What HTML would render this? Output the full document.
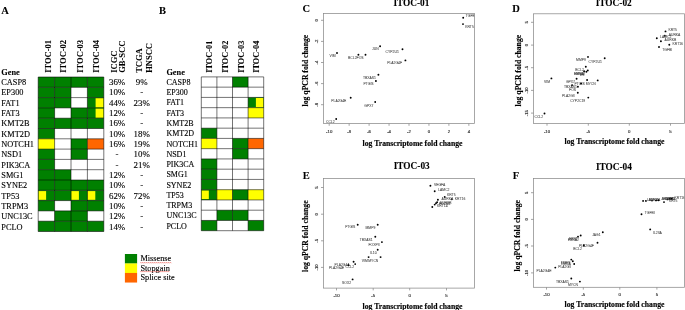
<!DOCTYPE html>
<html><head><meta charset="utf-8"><title>Figure</title>
<style>
html,body{margin:0;padding:0;background:#fff;}
svg{display:block;}
text{white-space:pre;}
.s{font-family:"Liberation Serif",serif;fill:#000;stroke:#000;stroke-width:0.12px;}
.sb{font-family:"Liberation Serif",serif;font-weight:bold;fill:#000;stroke:#000;stroke-width:0.08px;}
.ax{stroke:#000;stroke-width:0.15px;}
.t{font-family:"Liberation Sans",sans-serif;font-size:4.3px;fill:#333;stroke:#333;stroke-width:0.16px;}
.l{font-family:"Liberation Sans",sans-serif;font-size:3.4px;fill:#444;stroke:#444;stroke-width:0.05px;}
</style></head><body>
<svg width="685" height="310" viewBox="0 0 685 310">
<rect width="685" height="310" fill="#ffffff"/>
<rect x="38.20" y="77.00" width="16.40" height="10.30" fill="#008000"/>
<rect x="54.60" y="77.00" width="16.40" height="10.30" fill="#008000"/>
<rect x="71.00" y="77.00" width="16.40" height="10.30" fill="#008000"/>
<rect x="87.40" y="77.00" width="16.40" height="10.30" fill="#008000"/>
<rect x="38.20" y="87.30" width="16.40" height="10.30" fill="#008000"/>
<rect x="54.60" y="87.30" width="16.40" height="10.30" fill="#008000"/>
<rect x="87.40" y="87.30" width="16.40" height="10.30" fill="#008000"/>
<rect x="38.20" y="97.60" width="16.40" height="10.30" fill="#008000"/>
<rect x="54.60" y="97.60" width="16.40" height="10.30" fill="#008000"/>
<rect x="87.40" y="97.60" width="16.40" height="10.30" fill="#008000"/>
<rect x="95.60" y="98.20" width="8.00" height="9.30" fill="#ffff00"/>
<rect x="38.20" y="107.90" width="16.40" height="10.30" fill="#008000"/>
<rect x="71.00" y="107.90" width="16.40" height="10.30" fill="#008000"/>
<rect x="87.40" y="107.90" width="16.40" height="10.30" fill="#008000"/>
<rect x="95.60" y="108.50" width="8.00" height="9.30" fill="#ffff00"/>
<rect x="38.20" y="118.20" width="16.40" height="10.30" fill="#008000"/>
<rect x="54.60" y="118.20" width="16.40" height="10.30" fill="#008000"/>
<rect x="71.00" y="118.20" width="16.40" height="10.30" fill="#008000"/>
<rect x="87.40" y="118.20" width="16.40" height="10.30" fill="#008000"/>
<rect x="38.20" y="128.50" width="16.40" height="10.30" fill="#008000"/>
<rect x="38.20" y="138.80" width="16.40" height="10.30" fill="#ffff00"/>
<rect x="71.00" y="138.80" width="16.40" height="10.30" fill="#008000"/>
<rect x="87.40" y="138.80" width="16.40" height="10.30" fill="#ff6600"/>
<rect x="38.20" y="149.10" width="16.40" height="10.30" fill="#008000"/>
<rect x="71.00" y="149.10" width="16.40" height="10.30" fill="#008000"/>
<rect x="38.20" y="159.40" width="16.40" height="10.30" fill="#008000"/>
<rect x="38.20" y="169.70" width="16.40" height="10.30" fill="#008000"/>
<rect x="54.60" y="169.70" width="16.40" height="10.30" fill="#008000"/>
<rect x="38.20" y="180.00" width="16.40" height="10.30" fill="#008000"/>
<rect x="54.60" y="180.00" width="16.40" height="10.30" fill="#008000"/>
<rect x="71.00" y="180.00" width="16.40" height="10.30" fill="#008000"/>
<rect x="87.40" y="180.00" width="16.40" height="10.30" fill="#008000"/>
<rect x="38.20" y="190.30" width="16.40" height="10.30" fill="#008000"/>
<rect x="38.40" y="191.10" width="7.71" height="8.70" fill="#ffff00"/>
<rect x="54.60" y="190.30" width="16.40" height="10.30" fill="#008000"/>
<rect x="71.00" y="190.30" width="16.40" height="10.30" fill="#008000"/>
<rect x="71.20" y="191.10" width="7.71" height="8.70" fill="#ffff00"/>
<rect x="87.40" y="190.30" width="16.40" height="10.30" fill="#008000"/>
<rect x="87.60" y="191.10" width="7.71" height="8.70" fill="#ffff00"/>
<rect x="38.20" y="200.60" width="16.40" height="10.30" fill="#008000"/>
<rect x="71.00" y="200.60" width="16.40" height="10.30" fill="#008000"/>
<rect x="87.40" y="200.60" width="16.40" height="10.30" fill="#008000"/>
<rect x="54.60" y="210.90" width="16.40" height="10.30" fill="#008000"/>
<rect x="71.00" y="210.90" width="16.40" height="10.30" fill="#008000"/>
<rect x="38.20" y="221.20" width="16.40" height="10.30" fill="#008000"/>
<rect x="54.60" y="221.20" width="16.40" height="10.30" fill="#008000"/>
<rect x="71.00" y="221.20" width="16.40" height="10.30" fill="#008000"/>
<rect x="87.40" y="221.20" width="16.40" height="10.30" fill="#008000"/>
<line x1="38.20" y1="77.00" x2="38.20" y2="231.50" stroke="#000" stroke-width="0.55"/>
<line x1="54.60" y1="77.00" x2="54.60" y2="231.50" stroke="#000" stroke-width="0.55"/>
<line x1="71.00" y1="77.00" x2="71.00" y2="231.50" stroke="#000" stroke-width="0.55"/>
<line x1="87.40" y1="77.00" x2="87.40" y2="231.50" stroke="#000" stroke-width="0.55"/>
<line x1="103.80" y1="77.00" x2="103.80" y2="231.50" stroke="#000" stroke-width="0.55"/>
<line x1="38.20" y1="77.00" x2="103.80" y2="77.00" stroke="#000" stroke-width="0.55"/>
<line x1="38.20" y1="87.30" x2="103.80" y2="87.30" stroke="#000" stroke-width="0.55"/>
<line x1="38.20" y1="97.60" x2="103.80" y2="97.60" stroke="#000" stroke-width="0.55"/>
<line x1="38.20" y1="107.90" x2="103.80" y2="107.90" stroke="#000" stroke-width="0.55"/>
<line x1="38.20" y1="118.20" x2="103.80" y2="118.20" stroke="#000" stroke-width="0.55"/>
<line x1="38.20" y1="128.50" x2="103.80" y2="128.50" stroke="#000" stroke-width="0.55"/>
<line x1="38.20" y1="138.80" x2="103.80" y2="138.80" stroke="#000" stroke-width="0.55"/>
<line x1="38.20" y1="149.10" x2="103.80" y2="149.10" stroke="#000" stroke-width="0.55"/>
<line x1="38.20" y1="159.40" x2="103.80" y2="159.40" stroke="#000" stroke-width="0.55"/>
<line x1="38.20" y1="169.70" x2="103.80" y2="169.70" stroke="#000" stroke-width="0.55"/>
<line x1="38.20" y1="180.00" x2="103.80" y2="180.00" stroke="#000" stroke-width="0.55"/>
<line x1="38.20" y1="190.30" x2="103.80" y2="190.30" stroke="#000" stroke-width="0.55"/>
<line x1="38.20" y1="200.60" x2="103.80" y2="200.60" stroke="#000" stroke-width="0.55"/>
<line x1="38.20" y1="210.90" x2="103.80" y2="210.90" stroke="#000" stroke-width="0.55"/>
<line x1="38.20" y1="221.20" x2="103.80" y2="221.20" stroke="#000" stroke-width="0.55"/>
<line x1="38.20" y1="231.50" x2="103.80" y2="231.50" stroke="#000" stroke-width="0.55"/>
<text class="s" x="1.3" y="84.85" font-size="8.3">CASP8</text>
<text class="s" x="1.3" y="95.19" font-size="8.3">EP300</text>
<text class="s" x="1.3" y="105.54" font-size="8.3">FAT1</text>
<text class="s" x="1.3" y="115.88" font-size="8.3">FAT3</text>
<text class="s" x="1.3" y="126.23" font-size="8.3">KMT2B</text>
<text class="s" x="1.3" y="136.57" font-size="8.3">KMT2D</text>
<text class="s" x="1.3" y="146.92" font-size="8.3">NOTCH1</text>
<text class="s" x="1.3" y="157.26" font-size="8.3">NSD1</text>
<text class="s" x="1.3" y="167.61" font-size="8.3">PIK3CA</text>
<text class="s" x="1.3" y="177.95" font-size="8.3">SMG1</text>
<text class="s" x="1.3" y="188.3" font-size="8.3">SYNE2</text>
<text class="s" x="1.3" y="198.64" font-size="8.3">TP53</text>
<text class="s" x="1.3" y="208.99" font-size="8.3">TRPM3</text>
<text class="s" x="1.3" y="219.34" font-size="8.3">UNC13C</text>
<text class="s" x="1.3" y="229.68" font-size="8.3">PCLO</text>
<text class="sb" x="1.3" y="75.2" font-size="8.3">Gene</text>
<text class="sb" x="51.2" y="72.8" font-size="8.5" transform="rotate(-90 51.2 72.8)">ITOC-01</text>
<text class="sb" x="66.5" y="72.8" font-size="8.5" transform="rotate(-90 66.5 72.8)">ITOC-02</text>
<text class="sb" x="82.9" y="72.8" font-size="8.5" transform="rotate(-90 82.9 72.8)">ITOC-03</text>
<text class="sb" x="99.2" y="72.8" font-size="8.5" transform="rotate(-90 99.2 72.8)">ITOC-04</text>
<text class="s" x="117.1" y="84.95" font-size="8.9" text-anchor="middle">36%</text>
<text class="s" x="141.7" y="84.95" font-size="8.9" text-anchor="middle">9%</text>
<text class="s" x="117.1" y="95.3" font-size="8.9" text-anchor="middle">10%</text>
<text class="s" x="141.7" y="95.3" font-size="8.9" text-anchor="middle">-</text>
<text class="s" x="117.1" y="105.64" font-size="8.9" text-anchor="middle">44%</text>
<text class="s" x="141.7" y="105.64" font-size="8.9" text-anchor="middle">23%</text>
<text class="s" x="117.1" y="115.99" font-size="8.9" text-anchor="middle">12%</text>
<text class="s" x="141.7" y="115.99" font-size="8.9" text-anchor="middle">-</text>
<text class="s" x="117.1" y="126.33" font-size="8.9" text-anchor="middle">16%</text>
<text class="s" x="141.7" y="126.33" font-size="8.9" text-anchor="middle">-</text>
<text class="s" x="117.1" y="136.68" font-size="8.9" text-anchor="middle">10%</text>
<text class="s" x="141.7" y="136.68" font-size="8.9" text-anchor="middle">18%</text>
<text class="s" x="117.1" y="147.02" font-size="8.9" text-anchor="middle">16%</text>
<text class="s" x="141.7" y="147.02" font-size="8.9" text-anchor="middle">19%</text>
<text class="s" x="117.1" y="157.37" font-size="8.9" text-anchor="middle">-</text>
<text class="s" x="141.7" y="157.37" font-size="8.9" text-anchor="middle">10%</text>
<text class="s" x="117.1" y="167.71" font-size="8.9" text-anchor="middle">-</text>
<text class="s" x="141.7" y="167.71" font-size="8.9" text-anchor="middle">21%</text>
<text class="s" x="117.1" y="178.06" font-size="8.9" text-anchor="middle">12%</text>
<text class="s" x="141.7" y="178.06" font-size="8.9" text-anchor="middle">-</text>
<text class="s" x="117.1" y="188.4" font-size="8.9" text-anchor="middle">10%</text>
<text class="s" x="141.7" y="188.4" font-size="8.9" text-anchor="middle">-</text>
<text class="s" x="117.1" y="198.75" font-size="8.9" text-anchor="middle">62%</text>
<text class="s" x="141.7" y="198.75" font-size="8.9" text-anchor="middle">72%</text>
<text class="s" x="117.1" y="209.09" font-size="8.9" text-anchor="middle">10%</text>
<text class="s" x="141.7" y="209.09" font-size="8.9" text-anchor="middle">-</text>
<text class="s" x="117.1" y="219.44" font-size="8.9" text-anchor="middle">12%</text>
<text class="s" x="141.7" y="219.44" font-size="8.9" text-anchor="middle">-</text>
<text class="s" x="117.1" y="229.78" font-size="8.9" text-anchor="middle">14%</text>
<text class="s" x="141.7" y="229.78" font-size="8.9" text-anchor="middle">-</text>
<text class="sb" x="116.6" y="72.8" font-size="8.5" transform="rotate(-90 116.6 72.8)">ICGC</text>
<text class="sb" x="125.4" y="72.8" font-size="8.5" transform="rotate(-90 125.4 72.8)">GB-SCC</text>
<text class="sb" x="142.5" y="72.8" font-size="8.5" transform="rotate(-90 142.5 72.8)">TCGA</text>
<text class="sb" x="152.0" y="72.8" font-size="8.5" transform="rotate(-90 152.0 72.8)">HNSCC</text>
<rect x="232.50" y="76.90" width="15.60" height="10.25" fill="#008000"/>
<rect x="248.10" y="97.41" width="15.60" height="10.25" fill="#008000"/>
<rect x="255.90" y="98.01" width="7.60" height="9.25" fill="#ffff00"/>
<rect x="248.10" y="107.66" width="15.60" height="10.25" fill="#ffff00"/>
<rect x="201.30" y="128.17" width="15.60" height="10.25" fill="#008000"/>
<rect x="201.30" y="138.42" width="15.60" height="10.25" fill="#ffff00"/>
<rect x="232.50" y="138.42" width="15.60" height="10.25" fill="#008000"/>
<rect x="248.10" y="138.42" width="15.60" height="10.25" fill="#ff6600"/>
<rect x="232.50" y="148.67" width="15.60" height="10.25" fill="#008000"/>
<rect x="201.30" y="158.93" width="15.60" height="10.25" fill="#008000"/>
<rect x="201.30" y="169.18" width="15.60" height="10.25" fill="#008000"/>
<rect x="201.30" y="179.43" width="15.60" height="10.25" fill="#008000"/>
<rect x="201.30" y="189.69" width="15.60" height="10.25" fill="#008000"/>
<rect x="201.50" y="190.49" width="7.33" height="8.65" fill="#ffff00"/>
<rect x="216.90" y="189.69" width="15.60" height="10.25" fill="#ffff00"/>
<rect x="232.50" y="189.69" width="15.60" height="10.25" fill="#008000"/>
<rect x="248.10" y="189.69" width="15.60" height="10.25" fill="#ffff00"/>
<rect x="216.90" y="210.19" width="15.60" height="10.25" fill="#008000"/>
<rect x="232.50" y="210.19" width="15.60" height="10.25" fill="#008000"/>
<rect x="201.30" y="220.45" width="15.60" height="10.25" fill="#008000"/>
<rect x="248.10" y="220.45" width="15.60" height="10.25" fill="#008000"/>
<line x1="201.30" y1="76.90" x2="201.30" y2="230.70" stroke="#000" stroke-width="0.55"/>
<line x1="216.90" y1="76.90" x2="216.90" y2="230.70" stroke="#000" stroke-width="0.55"/>
<line x1="232.50" y1="76.90" x2="232.50" y2="230.70" stroke="#000" stroke-width="0.55"/>
<line x1="248.10" y1="76.90" x2="248.10" y2="230.70" stroke="#000" stroke-width="0.55"/>
<line x1="263.70" y1="76.90" x2="263.70" y2="230.70" stroke="#000" stroke-width="0.55"/>
<line x1="201.30" y1="76.90" x2="263.70" y2="76.90" stroke="#000" stroke-width="0.55"/>
<line x1="201.30" y1="87.15" x2="263.70" y2="87.15" stroke="#000" stroke-width="0.55"/>
<line x1="201.30" y1="97.41" x2="263.70" y2="97.41" stroke="#000" stroke-width="0.55"/>
<line x1="201.30" y1="107.66" x2="263.70" y2="107.66" stroke="#000" stroke-width="0.55"/>
<line x1="201.30" y1="117.91" x2="263.70" y2="117.91" stroke="#000" stroke-width="0.55"/>
<line x1="201.30" y1="128.17" x2="263.70" y2="128.17" stroke="#000" stroke-width="0.55"/>
<line x1="201.30" y1="138.42" x2="263.70" y2="138.42" stroke="#000" stroke-width="0.55"/>
<line x1="201.30" y1="148.67" x2="263.70" y2="148.67" stroke="#000" stroke-width="0.55"/>
<line x1="201.30" y1="158.93" x2="263.70" y2="158.93" stroke="#000" stroke-width="0.55"/>
<line x1="201.30" y1="169.18" x2="263.70" y2="169.18" stroke="#000" stroke-width="0.55"/>
<line x1="201.30" y1="179.43" x2="263.70" y2="179.43" stroke="#000" stroke-width="0.55"/>
<line x1="201.30" y1="189.69" x2="263.70" y2="189.69" stroke="#000" stroke-width="0.55"/>
<line x1="201.30" y1="199.94" x2="263.70" y2="199.94" stroke="#000" stroke-width="0.55"/>
<line x1="201.30" y1="210.19" x2="263.70" y2="210.19" stroke="#000" stroke-width="0.55"/>
<line x1="201.30" y1="220.45" x2="263.70" y2="220.45" stroke="#000" stroke-width="0.55"/>
<line x1="201.30" y1="230.70" x2="263.70" y2="230.70" stroke="#000" stroke-width="0.55"/>
<text class="s" x="166.4" y="84.85" font-size="8.0">CASP8</text>
<text class="s" x="166.4" y="95.13" font-size="8.0">EP300</text>
<text class="s" x="166.4" y="105.41" font-size="8.0">FAT1</text>
<text class="s" x="166.4" y="115.69" font-size="8.0">FAT3</text>
<text class="s" x="166.4" y="125.97" font-size="8.0">KMT2B</text>
<text class="s" x="166.4" y="136.25" font-size="8.0">KMT2D</text>
<text class="s" x="166.4" y="146.53" font-size="8.0">NOTCH1</text>
<text class="s" x="166.4" y="156.81" font-size="8.0">NSD1</text>
<text class="s" x="166.4" y="167.09" font-size="8.0">PIK3CA</text>
<text class="s" x="166.4" y="177.37" font-size="8.0">SMG1</text>
<text class="s" x="166.4" y="187.65" font-size="8.0">SYNE2</text>
<text class="s" x="166.4" y="197.93" font-size="8.0">TP53</text>
<text class="s" x="166.4" y="208.21" font-size="8.0">TRPM3</text>
<text class="s" x="166.4" y="218.49" font-size="8.0">UNC13C</text>
<text class="s" x="166.4" y="228.77" font-size="8.0">PCLO</text>
<text class="sb" x="166.4" y="75.2" font-size="8.3">Gene</text>
<text class="sb" x="212.5" y="72.8" font-size="8.3" transform="rotate(-90 212.5 72.8)">ITOC-01</text>
<text class="sb" x="227.8" y="72.8" font-size="8.3" transform="rotate(-90 227.8 72.8)">ITOC-02</text>
<text class="sb" x="243.9" y="72.8" font-size="8.3" transform="rotate(-90 243.9 72.8)">ITOC-03</text>
<text class="sb" x="259.3" y="72.8" font-size="8.3" transform="rotate(-90 259.3 72.8)">ITOC-04</text>
<text class="sb" x="1.3" y="14.2" font-size="10.5">A</text>
<text class="sb" x="159.0" y="14.2" font-size="10.5">B</text>
<text class="sb" x="302.4" y="12.3" font-size="10.5">C</text>
<text class="sb" x="512.2" y="11.9" font-size="10.5">D</text>
<text class="sb" x="302.8" y="179.3" font-size="10.5">E</text>
<text class="sb" x="512.7" y="179.3" font-size="10.5">F</text>
<rect x="124.90" y="254.00" width="12.20" height="9.60" fill="#008000"/>
<text class="s lg" x="140.4" y="261.2" font-size="8.3">Missense</text>
<rect x="124.90" y="263.47" width="12.20" height="9.60" fill="#ffff00"/>
<text class="s lg" x="140.4" y="270.67" font-size="8.3">Stopgain</text>
<rect x="124.90" y="272.94" width="12.20" height="9.60" fill="#ff6600"/>
<text class="s lg" x="140.4" y="280.14" font-size="8.3">Splice site</text>
<polyline points="140.40,262.20 141.40,263.20 142.40,262.20 143.40,263.20 144.40,262.20 145.40,263.20 146.40,262.20 147.40,263.20 148.40,262.20 149.40,263.20 150.40,262.20 151.40,263.20 152.40,262.20 153.40,263.20 154.40,262.20 155.40,263.20 156.40,262.20 157.40,263.20 158.40,262.20 159.40,263.20 160.40,262.20 161.40,263.20 162.40,262.20 163.40,263.20 164.40,262.20 165.40,263.20 166.40,262.20 167.40,263.20 168.40,262.20 169.40,263.20 170.40,262.20 171.40,263.20" fill="none" stroke="#e8443a" stroke-width="0.55"/>
<polyline points="140.40,271.10 141.40,272.10 142.40,271.10 143.40,272.10 144.40,271.10 145.40,272.10 146.40,271.10 147.40,272.10 148.40,271.10 149.40,272.10 150.40,271.10 151.40,272.10 152.40,271.10 153.40,272.10 154.40,271.10 155.40,272.10 156.40,271.10 157.40,272.10 158.40,271.10 159.40,272.10 160.40,271.10 161.40,272.10 162.40,271.10 163.40,272.10 164.40,271.10 165.40,272.10 166.40,271.10 167.40,272.10 168.40,271.10 169.40,272.10" fill="none" stroke="#e8443a" stroke-width="0.55"/>
<clipPath id="c1"><rect x="323.6" y="13.6" width="150.90" height="109.90"/></clipPath>
<text class="sb" x="411.4" y="5.95" font-size="9.3" text-anchor="middle">ITOC-01</text>
<line x1="329.20" y1="123.50" x2="329.20" y2="125.80" stroke="#666" stroke-width="0.6"/>
<text class="t" x="329.2" y="132.6" text-anchor="middle">-10</text>
<line x1="349.15" y1="123.50" x2="349.15" y2="125.80" stroke="#666" stroke-width="0.6"/>
<text class="t" x="349.15" y="132.6" text-anchor="middle">-8</text>
<line x1="369.10" y1="123.50" x2="369.10" y2="125.80" stroke="#666" stroke-width="0.6"/>
<text class="t" x="369.09999999999997" y="132.6" text-anchor="middle">-6</text>
<line x1="389.05" y1="123.50" x2="389.05" y2="125.80" stroke="#666" stroke-width="0.6"/>
<text class="t" x="389.04999999999995" y="132.6" text-anchor="middle">-4</text>
<line x1="409.00" y1="123.50" x2="409.00" y2="125.80" stroke="#666" stroke-width="0.6"/>
<text class="t" x="409.0" y="132.6" text-anchor="middle">-2</text>
<line x1="428.95" y1="123.50" x2="428.95" y2="125.80" stroke="#666" stroke-width="0.6"/>
<text class="t" x="428.95" y="132.6" text-anchor="middle">0</text>
<line x1="448.90" y1="123.50" x2="448.90" y2="125.80" stroke="#666" stroke-width="0.6"/>
<text class="t" x="448.9" y="132.6" text-anchor="middle">2</text>
<line x1="468.85" y1="123.50" x2="468.85" y2="125.80" stroke="#666" stroke-width="0.6"/>
<text class="t" x="468.85" y="132.6" text-anchor="middle">4</text>
<line x1="321.00" y1="20.30" x2="323.60" y2="20.30" stroke="#666" stroke-width="0.6"/>
<text class="t" x="317.6" y="20.3" text-anchor="middle" transform="rotate(-90 317.6 20.3)">0</text>
<line x1="321.00" y1="41.40" x2="323.60" y2="41.40" stroke="#666" stroke-width="0.6"/>
<text class="t" x="317.6" y="41.400000000000006" text-anchor="middle" transform="rotate(-90 317.6 41.400000000000006)">-2</text>
<line x1="321.00" y1="62.50" x2="323.60" y2="62.50" stroke="#666" stroke-width="0.6"/>
<text class="t" x="317.6" y="62.5" text-anchor="middle" transform="rotate(-90 317.6 62.5)">-4</text>
<line x1="321.00" y1="83.60" x2="323.60" y2="83.60" stroke="#666" stroke-width="0.6"/>
<text class="t" x="317.6" y="83.60000000000001" text-anchor="middle" transform="rotate(-90 317.6 83.60000000000001)">-6</text>
<line x1="321.00" y1="104.70" x2="323.60" y2="104.70" stroke="#666" stroke-width="0.6"/>
<text class="t" x="317.6" y="104.7" text-anchor="middle" transform="rotate(-90 317.6 104.7)">-8</text>
<text class="sb ax" x="308.0" y="70.6" font-size="7.7" text-anchor="middle" transform="rotate(-90 308.0 70.6)">log qPCR fold change</text>
<text class="sb ax" x="412.5" y="145.6" font-size="7.7" text-anchor="middle">log Transcriptome fold change</text>
<g clip-path="url(#c1)">
<circle cx="337.0" cy="53.0" r="0.95"/>
<text class="l" x="332.6" y="57.25" text-anchor="middle">VIM</text>
<circle cx="358.4" cy="54.8" r="0.95"/>
<text class="l" x="356.6" y="58.75" text-anchor="end">BCL2</text>
<circle cx="365.5" cy="54.8" r="0.95"/>
<text class="l" x="363.6" y="58.75" text-anchor="end">FOS</text>
<circle cx="380.1" cy="46.2" r="0.95"/>
<text class="l" x="375.4" y="50.35" text-anchor="middle">JUN</text>
<circle cx="402.5" cy="49.2" r="0.95"/>
<text class="l" x="392.2" y="53.15" text-anchor="middle">CYP2U1</text>
<circle cx="405.4" cy="60.4" r="0.95"/>
<text class="l" x="394.6" y="63.85" text-anchor="middle">PLA2G4F</text>
<circle cx="463.2" cy="17.7" r="0.95"/>
<text class="l" x="465.8" y="17.15" text-anchor="start">TGFBI</text>
<circle cx="463.0" cy="24.1" r="0.95"/>
<text class="l" x="465.2" y="27.85" text-anchor="start">KRT5</text>
<circle cx="378.4" cy="74.7" r="0.95"/>
<text class="l" x="369.5" y="78.65" text-anchor="middle">TBXAS1</text>
<circle cx="375.9" cy="81.0" r="0.95"/>
<text class="l" x="368.5" y="84.95" text-anchor="middle">PTGIS</text>
<circle cx="350.7" cy="97.7" r="0.95"/>
<text class="l" x="338.8" y="102.15" text-anchor="middle">PLA2G4E</text>
<circle cx="375.2" cy="102.0" r="0.95"/>
<text class="l" x="368.8" y="106.55" text-anchor="middle">GPX7</text>
<circle cx="336.2" cy="119.0" r="0.95"/>
<text class="l" x="330.3" y="122.95" text-anchor="middle">CCL2</text>
</g>
<rect x="323.60" y="13.60" width="150.90" height="109.90" fill="none" stroke="#8a8a8a" stroke-width="0.75"/>
<clipPath id="c2"><rect x="533.6" y="13.8" width="150.90" height="109.60"/></clipPath>
<text class="sb" x="613.7" y="6.3" font-size="9.3" text-anchor="middle">ITOC-02</text>
<line x1="547.00" y1="123.40" x2="547.00" y2="125.70" stroke="#666" stroke-width="0.6"/>
<text class="t" x="547.0" y="132.5" text-anchor="middle">-10</text>
<line x1="588.30" y1="123.40" x2="588.30" y2="125.70" stroke="#666" stroke-width="0.6"/>
<text class="t" x="588.3" y="132.5" text-anchor="middle">-5</text>
<line x1="629.30" y1="123.40" x2="629.30" y2="125.70" stroke="#666" stroke-width="0.6"/>
<text class="t" x="629.3" y="132.5" text-anchor="middle">0</text>
<line x1="670.50" y1="123.40" x2="670.50" y2="125.70" stroke="#666" stroke-width="0.6"/>
<text class="t" x="670.5" y="132.5" text-anchor="middle">5</text>
<line x1="531.00" y1="22.30" x2="533.60" y2="22.30" stroke="#666" stroke-width="0.6"/>
<text class="t" x="527.6" y="22.3" text-anchor="middle" transform="rotate(-90 527.6 22.3)">5</text>
<line x1="531.00" y1="45.10" x2="533.60" y2="45.10" stroke="#666" stroke-width="0.6"/>
<text class="t" x="527.6" y="45.1" text-anchor="middle" transform="rotate(-90 527.6 45.1)">0</text>
<line x1="531.00" y1="67.70" x2="533.60" y2="67.70" stroke="#666" stroke-width="0.6"/>
<text class="t" x="527.6" y="67.7" text-anchor="middle" transform="rotate(-90 527.6 67.7)">-5</text>
<line x1="531.00" y1="90.40" x2="533.60" y2="90.40" stroke="#666" stroke-width="0.6"/>
<text class="t" x="527.6" y="90.4" text-anchor="middle" transform="rotate(-90 527.6 90.4)">-10</text>
<line x1="531.00" y1="113.10" x2="533.60" y2="113.10" stroke="#666" stroke-width="0.6"/>
<text class="t" x="527.6" y="113.1" text-anchor="middle" transform="rotate(-90 527.6 113.1)">-15</text>
<text class="sb ax" x="520.6" y="70.6" font-size="7.7" text-anchor="middle" transform="rotate(-90 520.6 70.6)">log qPCR fold change</text>
<text class="sb ax" x="614.5" y="144.0" font-size="7.7" text-anchor="middle">log Transcriptome fold change</text>
<g clip-path="url(#c2)">
<circle cx="588.0" cy="56.9" r="0.95"/>
<text class="l" x="581.0" y="61.45" text-anchor="middle">MMP9</text>
<circle cx="604.7" cy="58.3" r="0.95"/>
<text class="l" x="595.2" y="62.85" text-anchor="middle">CYP2U1</text>
<circle cx="585.8" cy="66.7" r="0.95"/>
<text class="l" x="579.6" y="70.55" text-anchor="middle">BCL2</text>
<circle cx="587.8" cy="70.4" r="0.95"/>
<text class="l" x="579.6" y="74.85" text-anchor="middle">EBNA2</text>
<circle cx="584.1" cy="71.2" r="0.95"/>
<text class="l" x="579.2" y="75.25" text-anchor="middle">LMNA</text>
<circle cx="586.4" cy="71.8" r="0.95"/>
<text class="l" x="582.0" y="76.45" text-anchor="middle">IL6</text>
<circle cx="576.6" cy="78.8" r="0.95"/>
<text class="l" x="570.4" y="83.15" text-anchor="middle">GPX7</text>
<circle cx="587.1" cy="80.0" r="0.95"/>
<text class="l" x="579.6" y="84.55" text-anchor="middle">PTGIS</text>
<circle cx="597.7" cy="80.4" r="0.95"/>
<text class="l" x="590.7" y="84.55" text-anchor="middle">MYCN</text>
<circle cx="581.1" cy="83.5" r="0.95"/>
<text class="l" x="570.4" y="88.05" text-anchor="middle">TBXAS1</text>
<circle cx="572.1" cy="85.1" r="0.95"/>
<circle cx="577.9" cy="86.8" r="0.95"/>
<text class="l" x="572.6" y="90.85" text-anchor="middle">FOS</text>
<circle cx="577.8" cy="92.8" r="0.95"/>
<text class="l" x="568.3" y="96.95" text-anchor="middle">PLA2G3</text>
<circle cx="588.3" cy="97.6" r="0.95"/>
<text class="l" x="577.7" y="101.75" text-anchor="middle">CYP2C19</text>
<circle cx="551.4" cy="78.4" r="0.95"/>
<text class="l" x="547.1" y="83.25" text-anchor="middle">VIM</text>
<circle cx="544.5" cy="113.5" r="0.95"/>
<text class="l" x="538.8" y="117.85" text-anchor="middle">CCL2</text>
<circle cx="665.5" cy="31.4" r="0.95"/>
<text class="l" x="668.4" y="31.45" text-anchor="start">KRT5</text>
<circle cx="664.8" cy="35.8" r="0.95"/>
<text class="l" x="668.7" y="35.55" text-anchor="start">AURKA</text>
<circle cx="656.8" cy="38.3" r="0.95"/>
<text class="l" x="660.0" y="38.45" text-anchor="start">LAMC2</text>
<circle cx="660.9" cy="41.2" r="0.95"/>
<text class="l" x="664.5" y="41.05" text-anchor="start">AURKB</text>
<circle cx="669.3" cy="44.8" r="0.95"/>
<text class="l" x="672.5" y="44.55" text-anchor="start">KRT16</text>
<circle cx="659.0" cy="47.0" r="0.95"/>
<text class="l" x="662.2" y="51.25" text-anchor="start">TGFBI</text>
</g>
<rect x="533.60" y="13.80" width="150.90" height="109.60" fill="none" stroke="#8a8a8a" stroke-width="0.75"/>
<clipPath id="c3"><rect x="323.6" y="178.5" width="150.90" height="109.60"/></clipPath>
<text class="sb" x="411.7" y="169.4" font-size="9.3" text-anchor="middle">ITOC-03</text>
<line x1="336.50" y1="288.10" x2="336.50" y2="290.40" stroke="#666" stroke-width="0.6"/>
<text class="t" x="336.5" y="297.2" text-anchor="middle">-10</text>
<line x1="373.20" y1="288.10" x2="373.20" y2="290.40" stroke="#666" stroke-width="0.6"/>
<text class="t" x="373.2" y="297.2" text-anchor="middle">-5</text>
<line x1="409.70" y1="288.10" x2="409.70" y2="290.40" stroke="#666" stroke-width="0.6"/>
<text class="t" x="409.7" y="297.2" text-anchor="middle">0</text>
<line x1="446.50" y1="288.10" x2="446.50" y2="290.40" stroke="#666" stroke-width="0.6"/>
<text class="t" x="446.5" y="297.2" text-anchor="middle">5</text>
<line x1="321.00" y1="187.50" x2="323.60" y2="187.50" stroke="#666" stroke-width="0.6"/>
<text class="t" x="317.6" y="187.5" text-anchor="middle" transform="rotate(-90 317.6 187.5)">5</text>
<line x1="321.00" y1="214.20" x2="323.60" y2="214.20" stroke="#666" stroke-width="0.6"/>
<text class="t" x="317.6" y="214.2" text-anchor="middle" transform="rotate(-90 317.6 214.2)">0</text>
<line x1="321.00" y1="240.80" x2="323.60" y2="240.80" stroke="#666" stroke-width="0.6"/>
<text class="t" x="317.6" y="240.8" text-anchor="middle" transform="rotate(-90 317.6 240.8)">-5</text>
<line x1="321.00" y1="267.40" x2="323.60" y2="267.40" stroke="#666" stroke-width="0.6"/>
<text class="t" x="317.6" y="267.4" text-anchor="middle" transform="rotate(-90 317.6 267.4)">-10</text>
<text class="sb ax" x="308.0" y="236.2" font-size="7.7" text-anchor="middle" transform="rotate(-90 308.0 236.2)">log qPCR fold change</text>
<text class="sb ax" x="412.5" y="308.8" font-size="7.7" text-anchor="middle">log Transcriptome fold change</text>
<g clip-path="url(#c3)">
<circle cx="430.4" cy="185.7" r="0.95"/>
<text class="l" x="433.9" y="185.75" text-anchor="start">VEGFA</text>
<circle cx="434.7" cy="191.2" r="0.95"/>
<text class="l" x="438.2" y="191.25" text-anchor="start">LAMC2</text>
<circle cx="444.7" cy="197.0" r="0.95"/>
<text class="l" x="447.1" y="196.25" text-anchor="start">KRT5</text>
<circle cx="451.7" cy="199.3" r="0.95"/>
<text class="l" x="454.8" y="199.75" text-anchor="start">KRT16</text>
<circle cx="437.9" cy="199.8" r="0.95"/>
<text class="l" x="441.6" y="199.85" text-anchor="start">AURKA</text>
<circle cx="437.1" cy="202.2" r="0.95"/>
<text class="l" x="439.8" y="203.55" text-anchor="start">AURKB</text>
<circle cx="436.0" cy="203.3" r="0.95"/>
<text class="l" x="439.0" y="204.85" text-anchor="start">FOXM1</text>
<circle cx="434.7" cy="204.6" r="0.95"/>
<text class="l" x="437.1" y="206.75" text-anchor="start">KRT14</text>
<circle cx="432.3" cy="207.0" r="0.95"/>
<circle cx="357.7" cy="224.7" r="0.95"/>
<text class="l" x="350.3" y="228.15" text-anchor="middle">PTGIS</text>
<circle cx="377.7" cy="224.7" r="0.95"/>
<text class="l" x="370.4" y="228.65" text-anchor="middle">MMP9</text>
<circle cx="375.3" cy="236.8" r="0.95"/>
<text class="l" x="366.2" y="240.95" text-anchor="middle">TBXAS1</text>
<circle cx="381.9" cy="242.1" r="0.95"/>
<text class="l" x="374.0" y="246.35" text-anchor="middle">FOXP3</text>
<circle cx="377.7" cy="249.8" r="0.95"/>
<text class="l" x="373.3" y="254.05" text-anchor="middle">IL10</text>
<circle cx="368.6" cy="257.1" r="0.95"/>
<text class="l" x="364.8" y="261.55" text-anchor="middle">VIM</text>
<circle cx="380.6" cy="257.1" r="0.95"/>
<text class="l" x="373.3" y="261.55" text-anchor="middle">MYCN</text>
<circle cx="353.6" cy="261.7" r="0.95"/>
<text class="l" x="342.1" y="266.15" text-anchor="middle">PLA2G4A</text>
<circle cx="355.2" cy="264.1" r="0.95"/>
<text class="l" x="349.8" y="268.05" text-anchor="middle">CCL2</text>
<circle cx="348.5" cy="265.1" r="0.95"/>
<text class="l" x="336.5" y="268.55" text-anchor="middle">PLA2G4E</text>
<circle cx="352.6" cy="279.4" r="0.95"/>
<text class="l" x="346.6" y="283.85" text-anchor="middle">SOX2</text>
</g>
<rect x="323.60" y="178.50" width="150.90" height="109.60" fill="none" stroke="#8a8a8a" stroke-width="0.75"/>
<clipPath id="c4"><rect x="533.6" y="178.5" width="150.90" height="108.80"/></clipPath>
<text class="sb" x="613.9" y="169.8" font-size="9.3" text-anchor="middle">ITOC-04</text>
<line x1="546.50" y1="287.30" x2="546.50" y2="289.60" stroke="#666" stroke-width="0.6"/>
<text class="t" x="546.5" y="296.4" text-anchor="middle">-10</text>
<line x1="583.30" y1="287.30" x2="583.30" y2="289.60" stroke="#666" stroke-width="0.6"/>
<text class="t" x="583.3" y="296.4" text-anchor="middle">-5</text>
<line x1="619.80" y1="287.30" x2="619.80" y2="289.60" stroke="#666" stroke-width="0.6"/>
<text class="t" x="619.8" y="296.4" text-anchor="middle">0</text>
<line x1="656.90" y1="287.30" x2="656.90" y2="289.60" stroke="#666" stroke-width="0.6"/>
<text class="t" x="656.9" y="296.4" text-anchor="middle">5</text>
<line x1="531.00" y1="192.70" x2="533.60" y2="192.70" stroke="#666" stroke-width="0.6"/>
<text class="t" x="527.6" y="192.7" text-anchor="middle" transform="rotate(-90 527.6 192.7)">5</text>
<line x1="531.00" y1="219.40" x2="533.60" y2="219.40" stroke="#666" stroke-width="0.6"/>
<text class="t" x="527.6" y="219.4" text-anchor="middle" transform="rotate(-90 527.6 219.4)">0</text>
<line x1="531.00" y1="246.00" x2="533.60" y2="246.00" stroke="#666" stroke-width="0.6"/>
<text class="t" x="527.6" y="246.0" text-anchor="middle" transform="rotate(-90 527.6 246.0)">-5</text>
<line x1="531.00" y1="272.90" x2="533.60" y2="272.90" stroke="#666" stroke-width="0.6"/>
<text class="t" x="527.6" y="272.9" text-anchor="middle" transform="rotate(-90 527.6 272.9)">-10</text>
<text class="sb ax" x="520.5" y="235.8" font-size="7.7" text-anchor="middle" transform="rotate(-90 520.5 235.8)">log qPCR fold change</text>
<text class="sb ax" x="614.5" y="306.9" font-size="7.7" text-anchor="middle">log Transcriptome fold change</text>
<g clip-path="url(#c4)">
<circle cx="602.8" cy="232.3" r="0.95"/>
<text class="l" x="596.4" y="236.45" text-anchor="middle">JAG1</text>
<circle cx="580.7" cy="235.5" r="0.95"/>
<text class="l" x="573.4" y="240.15" text-anchor="middle">FBN1</text>
<circle cx="578.0" cy="236.7" r="0.95"/>
<text class="l" x="573.4" y="241.25" text-anchor="middle">EBNA2</text>
<circle cx="597.5" cy="242.8" r="0.95"/>
<text class="l" x="586.4" y="246.85" text-anchor="middle">PLA2G4F</text>
<circle cx="583.7" cy="245.3" r="0.95"/>
<text class="l" x="577.6" y="249.65" text-anchor="middle">BCL2</text>
<circle cx="571.3" cy="259.6" r="0.95"/>
<text class="l" x="565.6" y="264.15" text-anchor="middle">MMP9</text>
<circle cx="572.8" cy="261.3" r="0.95"/>
<text class="l" x="566.0" y="265.15" text-anchor="middle">LMNA</text>
<circle cx="574.2" cy="264.0" r="0.95"/>
<text class="l" x="564.6" y="267.85" text-anchor="middle">PLA2G3</text>
<circle cx="555.3" cy="267.6" r="0.95"/>
<text class="l" x="544.0" y="271.65" text-anchor="middle">PLA2G4E</text>
<circle cx="571.3" cy="278.5" r="0.95"/>
<text class="l" x="562.5" y="282.75" text-anchor="middle">TBXAS1</text>
<circle cx="579.9" cy="281.6" r="0.95"/>
<text class="l" x="572.9" y="285.95" text-anchor="middle">MYCN</text>
<circle cx="643.1" cy="200.9" r="0.95"/>
<text class="l" x="647.0" y="201.25" text-anchor="start">LAMC2</text>
<circle cx="645.9" cy="200.9" r="0.95"/>
<circle cx="652.0" cy="200.6" r="0.95"/>
<text class="l" x="648.5" y="200.85" text-anchor="start">AURKA</text>
<circle cx="656.0" cy="200.4" r="0.95"/>
<circle cx="658.4" cy="200.2" r="0.95"/>
<text class="l" x="661.5" y="199.95" text-anchor="start">AURKB</text>
<circle cx="667.5" cy="199.4" r="0.95"/>
<text class="l" x="663.0" y="199.55" text-anchor="start">FOXM1</text>
<circle cx="669.7" cy="198.9" r="0.95"/>
<text class="l" x="665.0" y="200.15" text-anchor="start">KRT14</text>
<circle cx="671.5" cy="198.7" r="0.95"/>
<text class="l" x="674.5" y="199.05" text-anchor="start">KRT16</text>
<circle cx="664.0" cy="202.1" r="0.95"/>
<text class="l" x="668.9" y="202.25" text-anchor="start">KRT5</text>
<circle cx="641.5" cy="214.2" r="0.95"/>
<text class="l" x="644.7" y="214.05" text-anchor="start">TGFBI</text>
<circle cx="650.2" cy="229.4" r="0.95"/>
<text class="l" x="653.0" y="233.55" text-anchor="start">IL23A</text>
</g>
<rect x="533.60" y="178.50" width="150.90" height="108.80" fill="none" stroke="#8a8a8a" stroke-width="0.75"/>
</svg>
</body></html>
